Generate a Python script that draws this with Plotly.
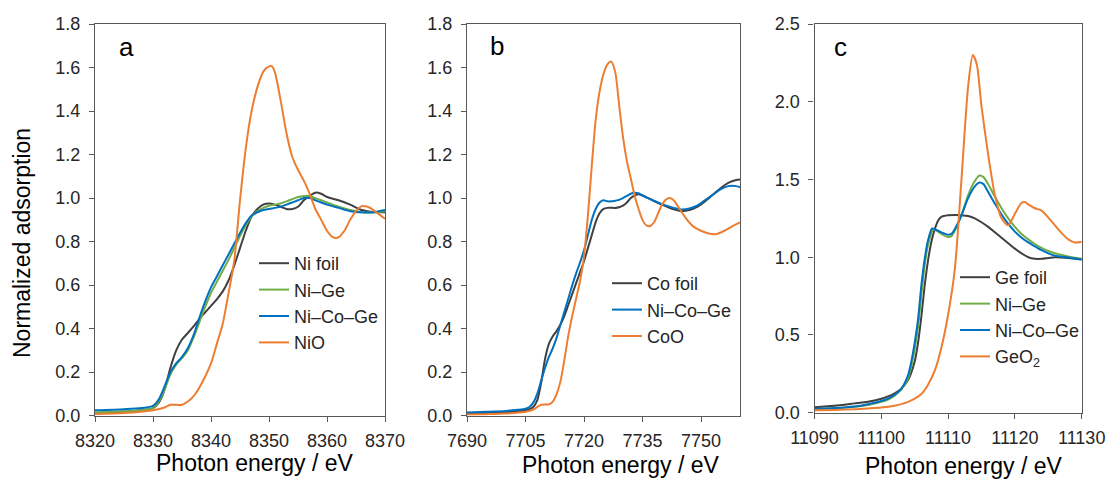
import plotly.graph_objects as go

# ---------------- Panel a : Ni K-edge ----------------
a_nifoil_e = [8320, 8325, 8328, 8330, 8331, 8332, 8333, 8334, 8335, 8336, 8337, 8338, 8339, 8340, 8341, 8342, 8343, 8344, 8345, 8346, 8347, 8348, 8349, 8350, 8351, 8352, 8353, 8354, 8355, 8356, 8357, 8358, 8359, 8360, 8362, 8364, 8366, 8368, 8370]
a_nifoil = [0.012, 0.018, 0.025, 0.035, 0.06, 0.12, 0.22, 0.30, 0.35, 0.38, 0.41, 0.445, 0.475, 0.505, 0.535, 0.57, 0.62, 0.69, 0.77, 0.85, 0.915, 0.95, 0.97, 0.975, 0.97, 0.96, 0.95, 0.95, 0.96, 0.99, 1.01, 1.025, 1.02, 1.005, 0.99, 0.97, 0.945, 0.935, 0.935]

a_nige_e = [8320, 8325, 8328, 8330, 8331, 8332, 8333, 8334, 8335, 8336, 8337, 8338, 8339, 8340, 8341, 8342, 8343, 8344, 8345, 8346, 8347, 8348, 8349, 8350, 8351, 8352, 8353, 8354, 8355, 8356, 8357, 8358, 8359, 8360, 8362, 8364, 8366, 8368, 8370]
a_nige = [0.015, 0.02, 0.025, 0.035, 0.065, 0.12, 0.19, 0.235, 0.265, 0.30, 0.36, 0.43, 0.50, 0.565, 0.615, 0.665, 0.715, 0.77, 0.825, 0.875, 0.915, 0.94, 0.955, 0.965, 0.97, 0.975, 0.985, 0.995, 1.005, 1.01, 1.01, 1.0, 0.99, 0.98, 0.96, 0.945, 0.935, 0.935, 0.94]

a_nicoge_e = [8320, 8325, 8328, 8330, 8331, 8332, 8333, 8334, 8335, 8336, 8337, 8338, 8339, 8340, 8341, 8342, 8343, 8344, 8345, 8346, 8347, 8348, 8349, 8350, 8351, 8352, 8353, 8354, 8355, 8356, 8357, 8358, 8359, 8360, 8362, 8364, 8366, 8368, 8370]
a_nicoge = [0.025, 0.03, 0.035, 0.045, 0.075, 0.135, 0.20, 0.24, 0.27, 0.31, 0.37, 0.45, 0.525, 0.59, 0.64, 0.69, 0.74, 0.79, 0.84, 0.885, 0.92, 0.935, 0.945, 0.95, 0.955, 0.96, 0.97, 0.98, 0.99, 1.0, 1.0, 0.99, 0.98, 0.97, 0.955, 0.94, 0.935, 0.935, 0.945]

a_nio_e = [8320, 8325, 8330, 8332, 8333, 8334, 8335, 8336, 8337, 8338, 8339, 8340, 8341, 8342, 8343, 8344, 8345, 8346, 8347, 8348, 8349, 8350, 8350.5, 8351, 8352, 8353, 8354, 8355, 8356, 8357, 8358, 8359, 8360, 8361, 8362, 8363, 8364, 8365, 8366, 8367, 8368, 8369, 8370]
a_nio = [0.008, 0.012, 0.025, 0.038, 0.05, 0.05, 0.05, 0.065, 0.09, 0.13, 0.18, 0.24, 0.33, 0.42, 0.56, 0.71, 0.99, 1.23, 1.40, 1.51, 1.58, 1.605, 1.605, 1.58, 1.45, 1.30, 1.19, 1.13, 1.08, 1.02, 0.95, 0.90, 0.85, 0.82, 0.82, 0.85, 0.90, 0.94, 0.963, 0.96, 0.945, 0.925, 0.905]

# ---------------- Panel b : Co K-edge ----------------
b_cofoil_e = [7690, 7695, 7700, 7703, 7705, 7706, 7707, 7708, 7709, 7710, 7711, 7712, 7713, 7714, 7715, 7716, 7717, 7718, 7719, 7720, 7721, 7722, 7723, 7724, 7725, 7726, 7728, 7729, 7730, 7731, 7732, 7733, 7734, 7735, 7737, 7740, 7743, 7745, 7747, 7749, 7751, 7753, 7755, 7757, 7759, 7760]
b_cofoil = [0.01, 0.012, 0.016, 0.02, 0.025, 0.03, 0.04, 0.07, 0.15, 0.26, 0.33, 0.365, 0.39, 0.42, 0.46, 0.51, 0.56, 0.61, 0.66, 0.71, 0.77, 0.83, 0.89, 0.93, 0.95, 0.955, 0.955, 0.958, 0.965, 0.98, 1.0, 1.012, 1.018, 1.012, 0.995, 0.97, 0.948, 0.94, 0.945, 0.96, 0.985, 1.015, 1.045, 1.07, 1.083, 1.085]

b_nicoge_e = [7690, 7695, 7700, 7703, 7705, 7706, 7707, 7708, 7709, 7710, 7711, 7712, 7713, 7714, 7715, 7716, 7717, 7718, 7719, 7720, 7721, 7722, 7723, 7724, 7725, 7726, 7727, 7728, 7729, 7730, 7731, 7732, 7733, 7734, 7735, 7737, 7740, 7743, 7745, 7747, 7749, 7751, 7753, 7755, 7757, 7759, 7760]
b_nicoge = [0.015, 0.018, 0.022, 0.027, 0.032, 0.04, 0.06, 0.10, 0.16, 0.22, 0.27, 0.31, 0.36, 0.42, 0.48, 0.54, 0.60, 0.655, 0.705, 0.76, 0.83, 0.90, 0.95, 0.98, 0.99, 0.985, 0.985, 0.988, 0.992, 1.0, 1.01, 1.02, 1.025, 1.022, 1.012, 0.995, 0.972, 0.955, 0.948, 0.952, 0.965, 0.99, 1.015, 1.04, 1.055, 1.055, 1.05]

b_coo_e = [7690, 7695, 7700, 7705, 7707, 7708, 7709, 7710, 7711, 7712, 7713, 7714, 7715, 7716, 7717, 7718, 7719, 7720, 7721, 7722, 7723, 7724, 7725, 7726, 7727, 7728, 7729, 7730, 7731, 7732, 7733, 7734, 7735, 7736, 7737, 7738, 7739, 7740, 7741, 7742, 7743, 7744, 7746, 7748, 7750, 7752, 7754, 7756, 7758, 7760]
b_coo = [0.005, 0.007, 0.01, 0.018, 0.028, 0.04, 0.05, 0.052, 0.052, 0.065, 0.10, 0.16, 0.26, 0.37, 0.46, 0.54, 0.62, 0.73, 0.92, 1.15, 1.36, 1.49, 1.57, 1.615, 1.627, 1.58, 1.43, 1.28, 1.17, 1.09, 1.01, 0.95, 0.90, 0.875, 0.872, 0.89, 0.93, 0.97, 0.993, 1.0, 0.99, 0.965, 0.91, 0.87, 0.85, 0.837, 0.835, 0.85, 0.87, 0.888]

# ---------------- Panel c : Ge K-edge ----------------
c_gefoil_e = [11090, 11093, 11096, 11098, 11100, 11101, 11102, 11103, 11104, 11105, 11105.5, 11106, 11106.5, 11107, 11107.5, 11108, 11108.5, 11109, 11110, 11111, 11112, 11113, 11114, 11115, 11116, 11117, 11118, 11119, 11120, 11121, 11122, 11123, 11124, 11125, 11126, 11128, 11130]
c_gefoil = [0.035, 0.045, 0.06, 0.07, 0.09, 0.105, 0.125, 0.155, 0.21, 0.33, 0.45, 0.62, 0.82, 0.98, 1.10, 1.18, 1.235, 1.26, 1.27, 1.272, 1.27, 1.265, 1.25, 1.225, 1.195, 1.16, 1.125, 1.09, 1.055, 1.025, 1.0, 0.99, 0.99, 0.995, 1.0, 0.995, 0.985]

c_nige_e = [11090, 11093, 11096, 11098, 11100, 11101, 11102, 11103, 11104, 11104.5, 11105, 11105.5, 11106, 11106.5, 11107, 11107.8, 11108.5, 11109, 11110, 11110.5, 11111, 11112, 11113, 11114, 11114.7, 11115.3, 11116, 11117, 11118, 11119, 11120, 11121, 11122, 11123, 11124, 11125, 11126, 11128, 11130]
c_nige = [0.022, 0.028, 0.038, 0.05, 0.07, 0.085, 0.11, 0.15, 0.22, 0.30, 0.41, 0.55, 0.76, 0.95, 1.08, 1.18, 1.165, 1.15, 1.13, 1.135, 1.17, 1.27, 1.40, 1.49, 1.525, 1.515, 1.47, 1.39, 1.315, 1.25, 1.195, 1.15, 1.115, 1.085, 1.06, 1.04, 1.025, 1.005, 0.99]

c_nicoge_e = [11090, 11093, 11096, 11098, 11100, 11101, 11102, 11103, 11104, 11104.5, 11105, 11105.5, 11106, 11106.5, 11107, 11107.6, 11108, 11109, 11110, 11110.5, 11111, 11112, 11113, 11114, 11114.7, 11115.3, 11116, 11117, 11118, 11119, 11120, 11121, 11122, 11123, 11124, 11125, 11126, 11128, 11130]
c_nicoge = [0.025, 0.03, 0.04, 0.055, 0.075, 0.09, 0.115, 0.155, 0.24, 0.33, 0.45, 0.60, 0.82, 0.99, 1.11, 1.185, 1.18, 1.16, 1.145, 1.15, 1.18, 1.27, 1.38, 1.455, 1.48, 1.47, 1.42, 1.345, 1.275, 1.215, 1.165, 1.125, 1.095, 1.07, 1.045, 1.025, 1.01, 0.998, 0.985]

c_geo2_e = [11090, 11093, 11096, 11098, 11100, 11102, 11103, 11104, 11105, 11106, 11107, 11108, 11109, 11110, 11111, 11112, 11113, 11113.7, 11114.3, 11115, 11116, 11117, 11118, 11119, 11120, 11121, 11121.5, 11122, 11123, 11124, 11125, 11126, 11127, 11128, 11129, 11130]
c_geo2 = [0.015, 0.018, 0.022, 0.027, 0.033, 0.045, 0.055, 0.07, 0.09, 0.12, 0.18, 0.27, 0.42, 0.63, 0.92, 1.50, 2.10, 2.30, 2.24, 1.97, 1.66, 1.40, 1.25, 1.205, 1.28, 1.35, 1.355, 1.34, 1.315, 1.30, 1.255, 1.205, 1.155, 1.115, 1.095, 1.10]

# axis settings
a_xrange = [8320, 8370]; a_xdtick = 10
b_xrange = [7690, 7760]; b_xdtick = 15
c_xrange = [11090, 11130]; c_xdtick = 10
ab_yrange = [0, 1.8]; ab_ydtick = 0.2
c_yrange = [0, 2.5]; c_ydtick = 0.5

BLACK = "#404040"
GREEN = "#70AD47"
BLUE = "#0070C0"
ORANGE = "#ED7D31"
FONT = "Liberation Sans, Arial, sans-serif"
W, H = 1111, 479

fig = go.Figure()

def add(x, y, name, color, ax, legend):
    fig.add_trace(go.Scatter(
        x=x, y=y, name=name, mode="lines",
        line=dict(color=color, width=2, shape="spline", smoothing=0.7),
        xaxis="x" + ax, yaxis="y" + ax, legend=legend,
        legendgroup=name + ax, hoverinfo="skip"))

add(a_nifoil_e, a_nifoil, "Ni foil", BLACK, "", "legend")
add(a_nige_e, a_nige, "Ni–Ge", GREEN, "", "legend")
add(a_nicoge_e, a_nicoge, "Ni–Co–Ge", BLUE, "", "legend")
add(a_nio_e, a_nio, "NiO", ORANGE, "", "legend")

add(b_cofoil_e, b_cofoil, "Co foil", BLACK, "2", "legend2")
add(b_nicoge_e, b_nicoge, "Ni–Co–Ge", BLUE, "2", "legend2")
add(b_coo_e, b_coo, "CoO", ORANGE, "2", "legend2")

add(c_gefoil_e, c_gefoil, "Ge foil", BLACK, "3", "legend3")
add(c_nige_e, c_nige, "Ni–Ge", GREEN, "3", "legend3")
add(c_nicoge_e, c_nicoge, "Ni–Co–Ge", BLUE, "3", "legend3")
add(c_geo2_e, c_geo2, "GeO<sub>2</sub>", ORANGE, "3", "legend3")

def px2x(px):
    return px / W

def py2y(py):
    return 1 - py / H

AXC = "#595959"
TICKC = "#262626"

def xax(domain, rng, dtick, anchor):
    return dict(domain=domain, range=rng, dtick=dtick, tick0=rng[0], anchor=anchor,
                showline=True, mirror=True, linecolor=AXC, linewidth=1.2,
                ticks="outside", ticklen=5, tickcolor=AXC, tickwidth=1,
                showgrid=False, zeroline=False, ticklabelstandoff=4, automargin=False,
                tickformat="d", separatethousands=False,
                tickfont=dict(family=FONT, size=18, color=TICKC))

def yax(domain, rng, dtick, anchor):
    return dict(domain=domain, range=rng, dtick=dtick, tick0=0, anchor=anchor,
                showline=True, mirror=True, linecolor=AXC, linewidth=1.2,
                ticks="outside", ticklen=5, tickcolor=AXC, tickwidth=1,
                showgrid=False, zeroline=False, tickformat=".1f", ticklabelstandoff=5,
                automargin=False,
                tickfont=dict(family=FONT, size=18, color=TICKC))

ya = [py2y(415.7), py2y(24)]
yc = [py2y(412.7), py2y(24)]

def leg(xpx, ypx):
    return dict(x=px2x(xpx), y=py2y(ypx), xanchor="left", yanchor="top",
                bgcolor="rgba(0,0,0,0)", borderwidth=0, tracegroupgap=0,
                font=dict(family=FONT, size=18, color=TICKC), itemwidth=30)

def label(text, xpx, ypx, size, angle=0):
    return dict(text=text, x=px2x(xpx), y=py2y(ypx), xref="paper", yref="paper",
                xanchor="center", yanchor="middle", showarrow=False, textangle=angle,
                font=dict(family=FONT, size=size, color="#000000"))

annotations = [
    label("a", 126, 47, 26),
    label("b", 497, 46, 26),
    label("c", 840, 47, 26),
    label("Photon energy / eV", 255, 463, 23),
    label("Photon energy / eV", 621, 465, 23),
    label("Photon energy / eV", 964, 466, 23),
    label("Normalized adsorption", 22, 243, 23, -90),
]

fig.update_layout(
    width=W, height=H, margin=dict(l=0, r=0, t=0, b=0, autoexpand=False),
    paper_bgcolor="white", plot_bgcolor="white",
    font=dict(family=FONT),
    showlegend=True,
    xaxis=xax([px2x(95), px2x(385)], a_xrange, a_xdtick, "y"),
    yaxis=yax(ya, ab_yrange, ab_ydtick, "x"),
    xaxis2=xax([px2x(467), px2x(740)], b_xrange, b_xdtick, "y2"),
    yaxis2=yax(ya, ab_yrange, ab_ydtick, "x2"),
    xaxis3=xax([px2x(814.5), px2x(1081.7)], c_xrange, c_xdtick, "y3"),
    yaxis3=yax(yc, c_yrange, c_ydtick, "x3"),
    legend=leg(254, 245),
    legend2=leg(607, 265),
    legend3=leg(955, 259),
    annotations=annotations,
)

fig.write_html("out.html", config={"displayModeBar": False},
               post_script="document.body.style.margin='0';document.body.style.overflow='hidden';")
